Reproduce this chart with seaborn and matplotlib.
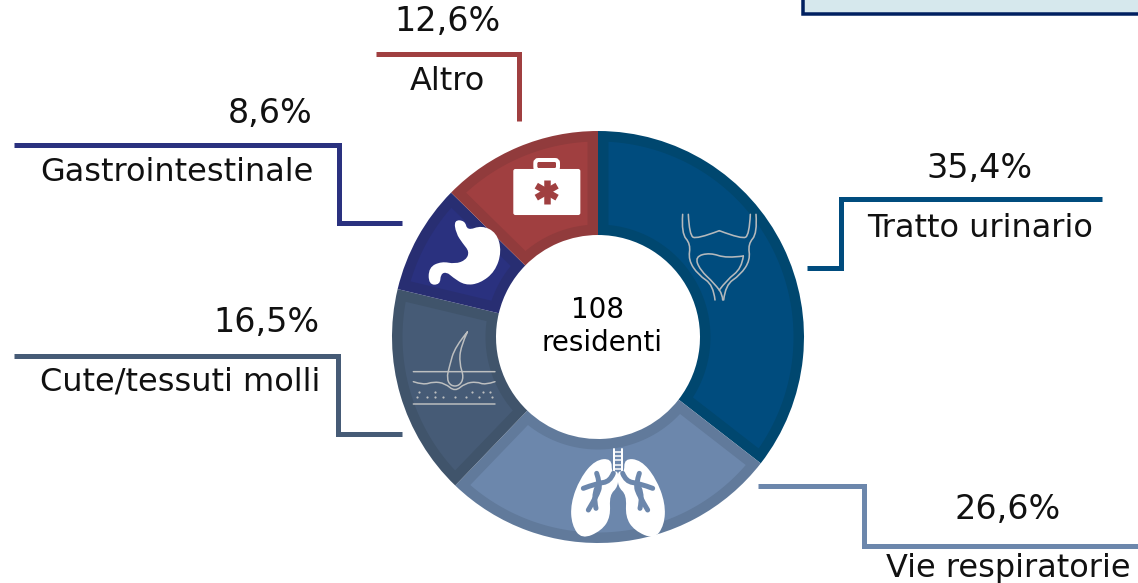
import numpy as np
import matplotlib
matplotlib.use('Agg')
import matplotlib.pyplot as plt
from matplotlib.path import Path
from matplotlib.patches import PathPatch, Rectangle, FancyBboxPatch, Polygon
import seaborn as sns

# ----- Data -----
categories = ['Tratto urinario', 'Vie respiratorie', 'Cute/tessuti molli', 'Gastrointestinale', 'Altro']
values = [35.4, 26.6, 16.5, 8.6, 12.6]
value_labels = ['35,4%', '26,6%', '16,5%', '8,6%', '12,6%']
fill_colors = ['#004C7E', '#6C87AC', '#465B76', '#2A317F', '#A03F40']
edge_colors = ['#00476F', '#617A9B', '#40546B', '#282E72', '#913B3C']
center_text = ['108', 'residenti']

W, H = 1138, 583
sns.set_theme(style='white')
plt.rcParams['font.family'] = ['DejaVu Sans']
fs = 23
fs_val = 24
px = 0.72  # 1 px in points at dpi 100

fig = plt.figure(figsize=(W / 100, H / 100), dpi=100)
ax = fig.add_axes([0, 0, 1, 1])

# ----- Donut: wedges in the darker colour, then the lighter inset on top -----
cx, cy, R, r = 598, H - 337, 206, 102
band = 10.5
wedges, _ = ax.pie(values, colors=sns.color_palette(edge_colors), startangle=90, counterclock=False,
                   center=(cx, cy), radius=R, wedgeprops=dict(width=R - r, linewidth=0), frame=True)
ax.set_xlim(0, W)
ax.set_ylim(0, H)
ax.set_aspect('auto')
ax.axis('off')


def inset_polygon(w, b):
    ro, ri = R - b, r + b
    t1, t2 = np.radians(w.theta1), np.radians(w.theta2)
    outer = np.linspace(t1 + np.arcsin(b / ro), t2 - np.arcsin(b / ro), 80)
    inner = np.linspace(t2 - np.arcsin(b / ri), t1 + np.arcsin(b / ri), 80)
    xs = np.r_[cx + ro * np.cos(outer), cx + ri * np.cos(inner)]
    ys = np.r_[cy + ro * np.sin(outer), cy + ri * np.sin(inner)]
    return np.c_[xs, ys]


for w, col in zip(wedges, fill_colors):
    ax.add_patch(Polygon(inset_polygon(w, band), closed=True, fc=col, ec='none', zorder=2))


def Y(y):
    return H - y


# ----- Connectors -----
connectors = [
    [(1102, 199), (841, 199), (841, 268), (807, 268)],
    [(758, 486), (864, 486), (864, 546), (1138, 546)],
    [(14, 356), (338, 356), (338, 434), (402, 434)],
    [(14, 145), (339, 145), (339, 223), (402, 223)],
    [(376, 54), (519, 54), (519, 121)],
]
for pts, col in zip(connectors, fill_colors):
    ax.plot([p[0] for p in pts], [Y(p[1]) for p in pts], color=col, lw=5 * px,
            solid_joinstyle='miter', solid_capstyle='butt')

# ----- Labels: (x, baseline of value, baseline of name, ha) -----
label_pos = [(980, 178, 980, 237, 'center'), (1008, 519, 1008, 577, 'center'),
             (320, 332, 320, 390, 'right'), (313, 123, 314, 181, 'right'),
             (448, 31, 447, 90, 'center')]
for cat, lab, (x1, y1, x2, y2, ha) in zip(categories, value_labels, label_pos):
    ax.text(x1, Y(y1), lab, fontsize=fs_val, ha=ha, va='baseline', color='#111111')
    ax.text(x2, Y(y2), cat, fontsize=fs, ha=ha, va='baseline', color='#111111')

ax.text(598, Y(318), center_text[0], fontsize=20, ha='center', va='baseline', color='black')
ax.text(602, Y(351), center_text[1], fontsize=20, ha='center', va='baseline', color='black')

# ----- Box cut off at the top right -----
ax.add_patch(Rectangle((803, Y(13.5)), 360, 40, fc='#D6E8ED', ec='#002060', lw=3.5 * px))


# ----- Icons, coordinates taken from a 3x crop at (380,120) -----
def z(p):
    return (380 + p[0] / 3, H - (120 + p[1] / 3))


def smooth(points, closed=True):
    pts = [np.array(z(p)) for p in points]
    n = len(pts)
    if closed:
        verts = [(pts[-1] + pts[0]) / 2]
        codes = [Path.MOVETO]
        for i in range(n):
            verts += [pts[i], (pts[i] + pts[(i + 1) % n]) / 2]
            codes += [Path.CURVE3, Path.CURVE3]
    else:
        verts = [pts[0]]
        codes = [Path.MOVETO]
        for i in range(1, n - 1):
            end = pts[i + 1] if i == n - 2 else (pts[i] + pts[i + 1]) / 2
            verts += [pts[i], end]
            codes += [Path.CURVE3, Path.CURVE3]
    return Path(verts, codes)


def line(points, col, lw, zo=5):
    ax.add_patch(PathPatch(smooth(points, closed=False), fc='none', ec=col, lw=lw * px, zorder=zo,
                           capstyle='round'))


def blob(points, col='white', zo=4):
    ax.add_patch(PathPatch(smooth(points), fc=col, ec='none', zorder=zo))


def mirror(points, xc):
    return [(2 * xc - p[0], p[1]) for p in points]


# suitcase
ax.add_patch(FancyBboxPatch(z((402, 283)), 197 / 3, 134 / 3, boxstyle='round,pad=0,rounding_size=1.5',
                            fc='white', ec='white', lw=1, zorder=4))
ax.add_patch(FancyBboxPatch(z((466, 150)), 68 / 3, 30 / 3, boxstyle='round,pad=0,rounding_size=3',
                            fc='none', ec='white', lw=4 * px, zorder=4))
sx, sy = z((500, 215))
for a in [90, 30, 150]:
    dx, dy = 12 * np.cos(np.radians(a)), 12 * np.sin(np.radians(a))
    ax.plot([sx - dx, sx + dx], [sy - dy, sy + dy], color=fill_colors[4], lw=6.5 * px,
            solid_capstyle='butt', zorder=5)

# stomach
blob([(222, 300), (255, 302), (262, 332), (305, 316), (350, 338), (365, 395), (345, 455), (300, 490),
      (255, 496), (218, 472), (200, 456), (182, 462), (180, 494), (146, 494), (146, 442), (185, 424),
      (225, 432), (258, 420), (268, 395), (248, 370), (228, 340)])

# skin
skin = '#BDBFC0'
for yy in (755, 852):
    line([(100, yy), (220, yy), (345, yy)], skin, 1.5)
line([(100, 785), (130, 795), (160, 785), (195, 790), (225, 815), (255, 790), (290, 785), (315, 795), (345, 785)], skin, 1.5)
blob([(262, 636), (240, 670), (215, 720), (200, 770), (210, 800), (240, 800), (252, 770), (236, 720)], fill_colors[2])
line([(262, 636), (225, 680), (208, 740), (200, 775), (212, 798), (238, 798), (252, 772), (238, 730), (242, 680), (262, 636)], skin, 1.5)
dots_x = [118, 165, 275, 310, 330, 110, 140, 165, 188, 225, 258, 297, 335]
dots_y = [815, 815, 815, 815, 815, 832, 832, 832, 832, 832, 832, 832, 832]
ax.scatter([z((a, b))[0] for a, b in zip(dots_x, dots_y)], [z((a, b))[1] for a, b in zip(dots_x, dots_y)],
           s=2.5, color=skin, linewidths=0, zorder=5)

# lungs
lung = [(695, 1015), (645, 1020), (600, 1075), (572, 1150), (575, 1215), (605, 1258), (665, 1232), (692, 1190),
        (688, 1125), (715, 1100), (715, 1050), (695, 1060)]
blob(lung)
blob(mirror(lung, 714))
ax.plot(*zip(*[z(p) for p in [(703, 988), (703, 1060)]]), color='white', lw=2 * px, zorder=5)
ax.plot(*zip(*[z(p) for p in [(725, 988), (725, 1060)]]), color='white', lw=2 * px, zorder=5)
for yy in range(995, 1060, 13):
    ax.plot(*zip(*[z(p) for p in [(703, yy), (725, yy)]]), color='white', lw=1.5 * px, zorder=5)
bronchi = fill_colors[1]
left_b = [[(700, 1060), (690, 1085), (650, 1090), (610, 1105)],
          [(650, 1060), (660, 1090), (655, 1120), (625, 1170)],
          [(650, 1105), (640, 1130), (648, 1165)]]
for b in left_b:
    line(b, bronchi, 5, zo=6)
    line(mirror(b, 714), bronchi, 5, zo=6)
blob([(692, 1200), (692, 1135), (714, 1118), (736, 1135), (736, 1200), (714, 1245)], bronchi, zo=6)

# bladder
gray = '#B5B9BC'
bl_lines = [
    [(908, 283), (904, 340), (932, 372), (925, 420), (955, 465), (1000, 495), (1005, 540)],
    [(925, 283), (928, 345), (950, 358), (1018, 332)],
    [(1018, 510), (1003, 490), (960, 450), (945, 410), (990, 398), (1040, 415), (1090, 408)],
]
for b in bl_lines:
    line(b, gray, 1.6)
    if b[0] != (1018, 510):
        line(mirror(b, 1018), gray, 1.6)
line([(1090, 408), (1085, 445), (1040, 480), (1018, 510)], gray, 1.6)
line([(1018, 510), (1028, 525), (1028, 540)], gray, 1.6)

fig.savefig('out.png', dpi=100)
